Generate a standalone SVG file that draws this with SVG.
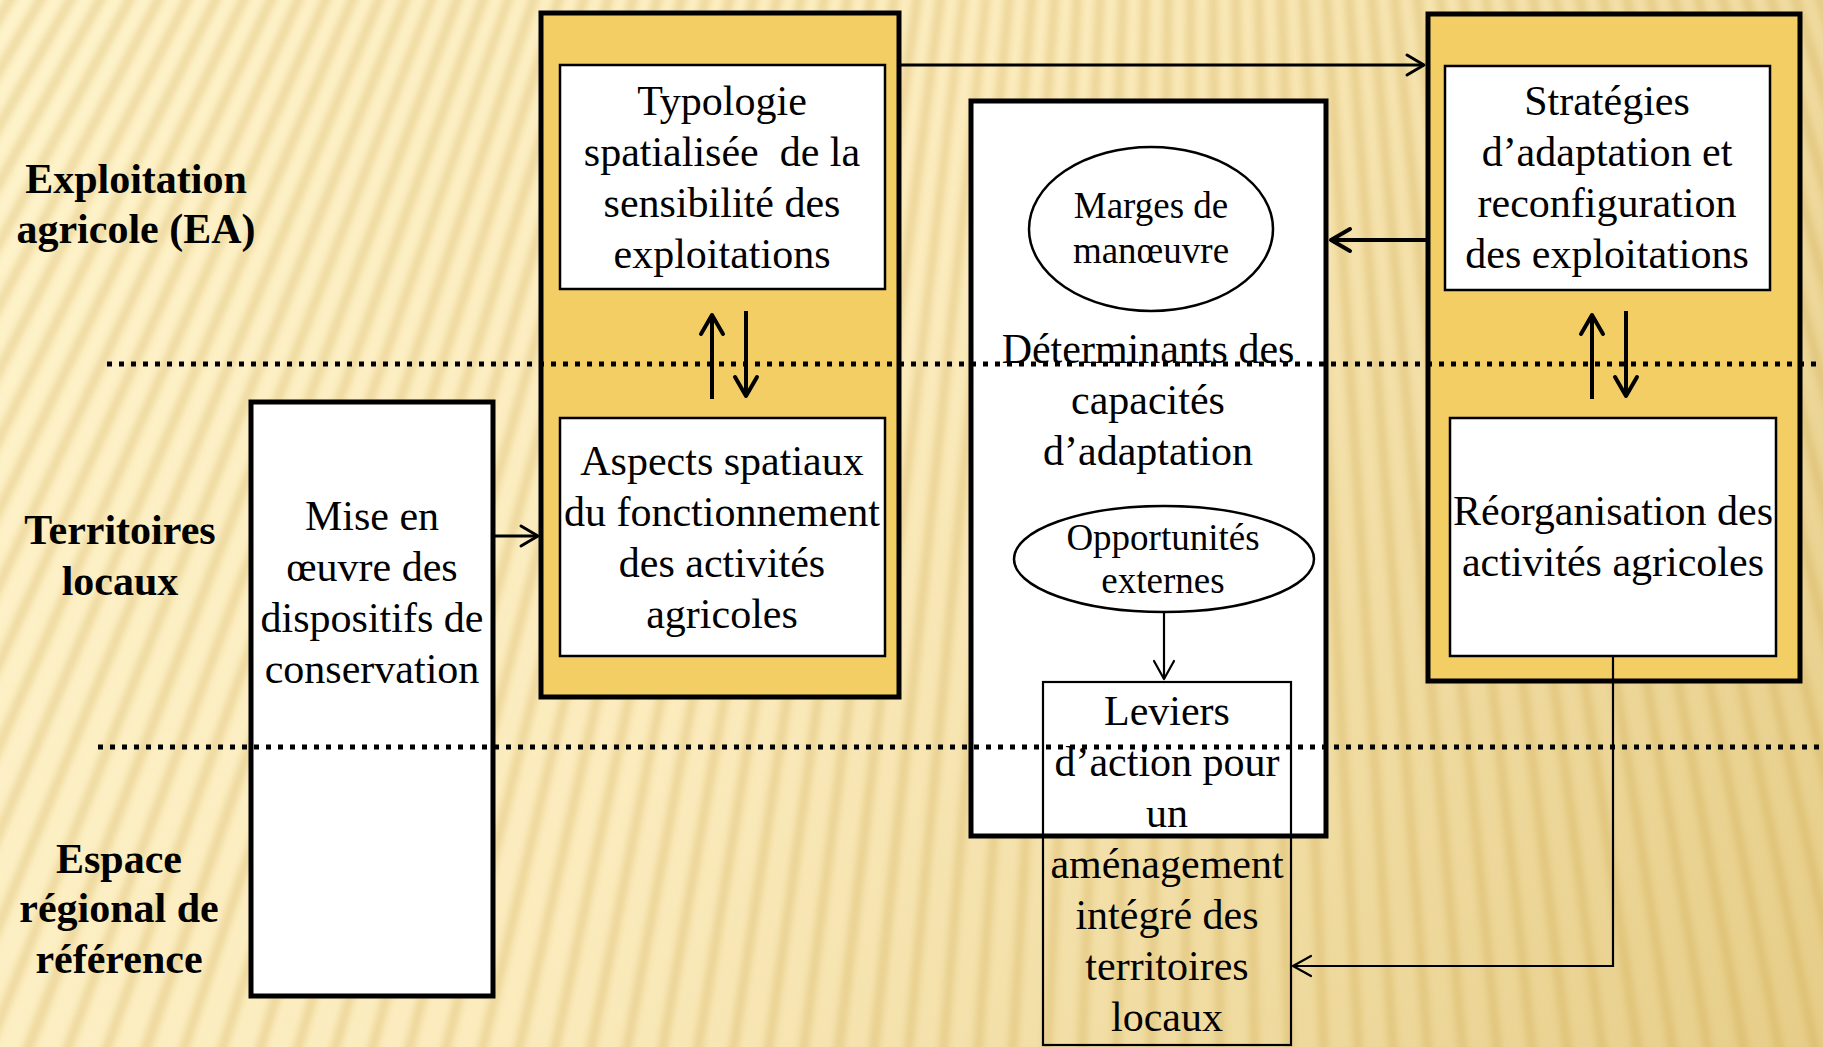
<svg xmlns="http://www.w3.org/2000/svg" width="1823" height="1047" viewBox="0 0 1823 1047">
<defs>
<style>
text{font-family:"Liberation Serif","Times New Roman",serif;fill:#000;text-anchor:middle}
.lbl{font-size:42px;font-weight:bold}
.t{font-size:42px}
.s{font-size:37px}
.outer{fill:#F3CE65;stroke:#000;stroke-width:5}
.white{fill:#fff;stroke:#000;stroke-width:5}
.inner{fill:#fff;stroke:#000;stroke-width:2.5}
.ell{fill:#fff;stroke:#000;stroke-width:2.5}
.c4{fill:none;stroke:#000;stroke-width:4}
.c3{fill:none;stroke:#000;stroke-width:3}
.c2{fill:none;stroke:#000;stroke-width:2.2}
.dot{fill:none;stroke:#000;stroke-width:5;stroke-dasharray:5 7}
</style>
<linearGradient id="bg" x1="0" y1="0" x2="1823" y2="1047" gradientUnits="userSpaceOnUse">
<stop offset="0" stop-color="#FEF3CB"/>
<stop offset="0.45" stop-color="#FBEBBD"/>
<stop offset="1" stop-color="#E6CD88"/>
</linearGradient>
<filter id="blur" filterUnits="userSpaceOnUse" x="0" y="0" width="1823" height="1047">
<feGaussianBlur stdDeviation="3"/>
</filter>
<marker id="a4" markerUnits="userSpaceOnUse" markerWidth="40" markerHeight="40" viewBox="-30 -20 40 40" refX="0" refY="0" orient="auto" overflow="visible">
<path d="M-19,-11 L0,0 L-19,11" fill="none" stroke="#000" stroke-width="4" stroke-linecap="round" stroke-linejoin="round"/>
</marker>
<marker id="a3" markerUnits="userSpaceOnUse" markerWidth="40" markerHeight="40" viewBox="-30 -20 40 40" refX="0" refY="0" orient="auto" overflow="visible">
<path d="M-17,-10 L0,0 L-17,10" fill="none" stroke="#000" stroke-width="3" stroke-linecap="round" stroke-linejoin="round"/>
</marker>
<marker id="a2" markerUnits="userSpaceOnUse" markerWidth="40" markerHeight="40" viewBox="-30 -20 40 40" refX="0" refY="0" orient="auto" overflow="visible">
<path d="M-18,-10 L0,0 L-18,10" fill="none" stroke="#000" stroke-width="2.2" stroke-linecap="round" stroke-linejoin="round"/>
</marker>
</defs>

<g id="background">
<rect x="0" y="0" width="1823" height="1047" fill="url(#bg)"/>
<circle cx="1200" cy="-2000" r="2650" fill="none" stroke="#C9A040" stroke-opacity="0.27" stroke-width="1400" stroke-dasharray="10 20" filter="url(#blur)"/>
</g>

<g id="labels">
<text class="lbl" x="136" y="193">Exploitation</text>
<text class="lbl" x="136" y="243">agricole (EA)</text>
<text class="lbl" x="120" y="544">Territoires</text>
<text class="lbl" x="120" y="595">locaux</text>
<text class="lbl" x="119" y="873">Espace</text>
<text class="lbl" x="119" y="922">régional de</text>
<text class="lbl" x="119" y="973">référence</text>
</g>

<g id="node-mise-en-oeuvre">
<rect class="white" x="251" y="402" width="242" height="594"/>
<text class="t" x="372" y="530">Mise en</text>
<text class="t" x="372" y="581">œuvre des</text>
<text class="t" x="372" y="632">dispositifs de</text>
<text class="t" x="372" y="683">conservation</text>
</g>

<g id="node-left-group">
<rect class="outer" x="541" y="13" width="358" height="684"/>
</g>
<g id="node-typologie">
<rect class="inner" x="560" y="65" width="325" height="224"/>
<text class="t" x="722" y="115">Typologie</text>
<text class="t" x="722" y="166" xml:space="preserve">spatialisée  de la</text>
<text class="t" x="722" y="217">sensibilité des</text>
<text class="t" x="722" y="268">exploitations</text>
</g>
<g id="node-aspects">
<rect class="inner" x="560" y="418" width="325" height="238"/>
<text class="t" x="722" y="475">Aspects spatiaux</text>
<text class="t" x="722" y="526">du fonctionnement</text>
<text class="t" x="722" y="577">des activités</text>
<text class="t" x="722" y="628">agricoles</text>
</g>

<g id="node-determinants">
<rect class="white" x="971" y="101" width="355" height="735"/>
<text class="t" x="1148" y="363">Déterminants des</text>
<text class="t" x="1148" y="414">capacités</text>
<text class="t" x="1148" y="465">d’adaptation</text>
</g>
<g id="node-marges">
<ellipse class="ell" cx="1151" cy="229" rx="122" ry="82"/>
<text class="s" x="1151" y="218">Marges de</text>
<text class="s" x="1151" y="263">manœuvre</text>
</g>
<g id="node-opportunites">
<ellipse class="ell" cx="1164" cy="559" rx="150" ry="53"/>
<text class="s" x="1163" y="550">Opportunités</text>
<text class="s" x="1163" y="593">externes</text>
</g>
<g id="node-leviers">
<rect x="1043" y="682" width="248" height="363" fill="none" stroke="#000" stroke-width="2.2"/>
<text class="t" x="1167" y="725">Leviers</text>
<text class="t" x="1167" y="776">d’action pour</text>
<text class="t" x="1167" y="827">un</text>
<text class="t" x="1167" y="878">aménagement</text>
<text class="t" x="1167" y="929">intégré des</text>
<text class="t" x="1167" y="980">territoires</text>
<text class="t" x="1167" y="1031">locaux</text>
</g>

<g id="node-right-group">
<rect class="outer" x="1428" y="14" width="372" height="667"/>
</g>
<g id="node-strategies">
<rect class="inner" x="1445" y="66" width="325" height="224"/>
<text class="t" x="1607" y="115">Stratégies</text>
<text class="t" x="1607" y="166">d’adaptation et</text>
<text class="t" x="1607" y="217">reconfiguration</text>
<text class="t" x="1607" y="268">des exploitations</text>
</g>
<g id="node-reorganisation">
<rect class="inner" x="1450" y="418" width="326" height="238"/>
<text class="t" x="1613" y="525">Réorganisation des</text>
<text class="t" x="1613" y="576">activités agricoles</text>
</g>

<g id="connectors">
<line class="c3" x1="901" y1="65" x2="1424" y2="65" marker-end="url(#a3)"/>
<line class="c4" x1="1426" y1="240" x2="1331" y2="240" marker-end="url(#a4)"/>
<line class="c3" x1="495" y1="536" x2="538" y2="536" marker-end="url(#a3)"/>
<line class="c4" x1="712" y1="399" x2="712" y2="315" marker-end="url(#a4)"/>
<line class="c4" x1="746" y1="311" x2="746" y2="396" marker-end="url(#a4)"/>
<line class="c4" x1="1592" y1="399" x2="1592" y2="315" marker-end="url(#a4)"/>
<line class="c4" x1="1626" y1="311" x2="1626" y2="396" marker-end="url(#a4)"/>
<line class="c2" x1="1164" y1="612" x2="1164" y2="679" marker-end="url(#a2)"/>
<polyline class="c2" points="1613,657 1613,966 1293,966" marker-end="url(#a2)"/>
</g>

<g id="dividers">
<line class="dot" x1="107" y1="364" x2="1823" y2="364"/>
<line class="dot" x1="98" y1="747" x2="1823" y2="747"/>
</g>
</svg>
